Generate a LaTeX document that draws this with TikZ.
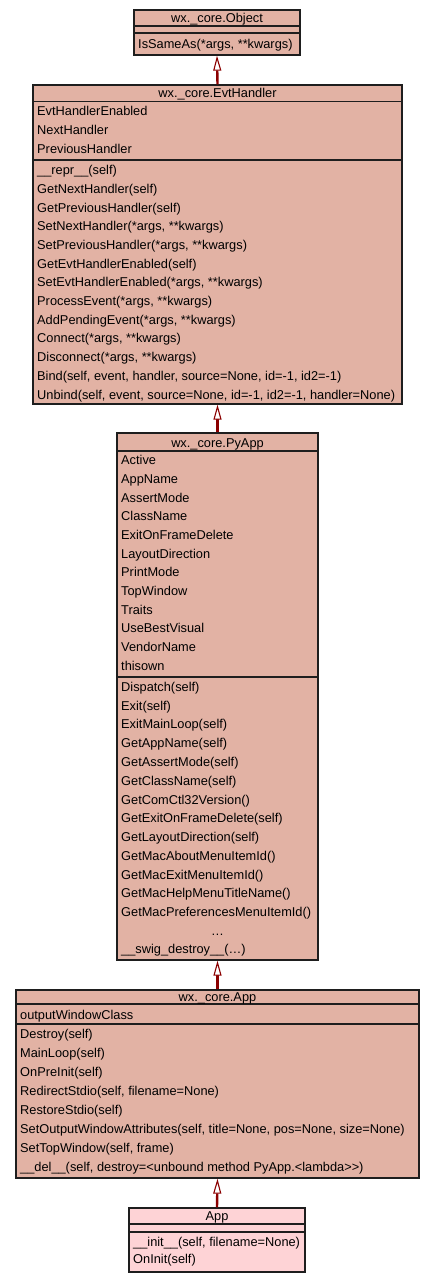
\documentclass[tikz,border=0pt]{standalone}
\usepackage{fontspec}
\setmainfont{Liberation Sans}
\usetikzlibrary{arrows.meta}
\definecolor{cBase}{HTML}{E2B2A4}
\definecolor{cLeaf}{HTML}{FED3D6}
\definecolor{cEdge}{HTML}{8B0000}
\definecolor{cLine}{HTML}{1E1E1E}

\begin{document}
\begin{tikzpicture}[
    x=1pt, y=-1pt, font=\fontsize{12.8}{15}\selectfont,
    cls/.style={draw=cLine, line width=1.3pt, fill=cBase, inner sep=0pt},
    leaf/.style={cls, fill=cLeaf},
    sepline/.style={draw=cLine, line width=1.3pt},
    inherit/.style={-{Triangle[length=15pt, width=8pt, fill=white, line width=1.1pt]},
                    line width=2.4pt, cEdge},
    title/.style={anchor=center, inner sep=0pt, text height=9.2pt, text depth=0pt},
    mem/.style={anchor=west, inner sep=0pt, text height=9.2pt, text depth=0pt},
]
\useasboundingbox (0,0) rectangle (435,1283);

% ===================== wx._core.Object =====================
\node[cls, minimum width=166pt, minimum height=45pt] (object) at (217,32.5) {};
\draw[sepline] (134,26) -- (300,26);
\draw[sepline] (134,33) -- (300,33);
\node[title] (objT) at (217,18) {wx.\_core.Object};
\node[mem] (objM1) at (138,44) {IsSameAs(*args, **kwargs)};

% ===================== wx._core.EvtHandler =====================
\node[cls, minimum width=369pt, minimum height=319pt] (evt) at (217.5,244.5) {};
\draw[sepline] (33,101.5) -- (402,101.5);
\draw[sepline] (33,160) -- (402,160);
\node[title] (evtT) at (217.5,93) {wx.\_core.EvtHandler};
\node[mem] (evtA1) at (37,111) {EvtHandlerEnabled};
\node[mem] (evtA2) at (37,129.7) {NextHandler};
\node[mem] (evtA3) at (37,148.4) {PreviousHandler};
\node[mem] (evtM1) at (37,170) {\_\_repr\_\_(self)};
\node[mem] (evtM2) at (37,188.7) {GetNextHandler(self)};
\node[mem] (evtM3) at (37,207.4) {GetPreviousHandler(self)};
\node[mem] (evtM4) at (37,226.1) {SetNextHandler(*args, **kwargs)};
\node[mem] (evtM5) at (37,244.8) {SetPreviousHandler(*args, **kwargs)};
\node[mem] (evtM6) at (37,263.5) {GetEvtHandlerEnabled(self)};
\node[mem] (evtM7) at (37,282.2) {SetEvtHandlerEnabled(*args, **kwargs)};
\node[mem] (evtM8) at (37,300.9) {ProcessEvent(*args, **kwargs)};
\node[mem] (evtM9) at (37,319.6) {AddPendingEvent(*args, **kwargs)};
\node[mem] (evtM10) at (37,338.3) {Connect(*args, **kwargs)};
\node[mem] (evtM11) at (37,357) {Disconnect(*args, **kwargs)};
\node[mem] (evtM12) at (37,375.7) {Bind(self, event, handler, source=None, id=-1, id2=-1)};
\node[mem] (evtM13) at (37,394.4) {Unbind(self, event, source=None, id=-1, id2=-1, handler=None)};

% ===================== wx._core.PyApp =====================
\node[cls, minimum width=201pt, minimum height=527pt] (pyapp) at (217.5,696.5) {};
\draw[sepline] (117,451) -- (318,451);
\draw[sepline] (117,677) -- (318,677);
\node[title] (pyT) at (217.5,442.5) {wx.\_core.PyApp};
\node[mem] (pyA1) at (121,460) {Active};
\node[mem] (pyA2) at (121,478.7) {AppName};
\node[mem] (pyA3) at (121,497.4) {AssertMode};
\node[mem] (pyA4) at (121,516.1) {ClassName};
\node[mem] (pyA5) at (121,534.8) {ExitOnFrameDelete};
\node[mem] (pyA6) at (121,553.5) {LayoutDirection};
\node[mem] (pyA7) at (121,572.2) {PrintMode};
\node[mem] (pyA8) at (121,590.9) {TopWindow};
\node[mem] (pyA9) at (121,609.6) {Traits};
\node[mem] (pyA10) at (121,628.3) {UseBestVisual};
\node[mem] (pyA11) at (121,647) {VendorName};
\node[mem] (pyA12) at (121,665.7) {thisown};
\node[mem] (pyM1) at (121,686.7) {Dispatch(self)};
\node[mem] (pyM2) at (121,705.5) {Exit(self)};
\node[mem] (pyM3) at (121,724.3) {ExitMainLoop(self)};
\node[mem] (pyM4) at (121,743) {GetAppName(self)};
\node[mem] (pyM5) at (121,761.8) {GetAssertMode(self)};
\node[mem] (pyM6) at (121,780.6) {GetClassName(self)};
\node[mem] (pyM7) at (121,799.4) {GetComCtl32Version()};
\node[mem] (pyM8) at (121,818.1) {GetExitOnFrameDelete(self)};
\node[mem] (pyM9) at (121,836.9) {GetLayoutDirection(self)};
\node[mem] (pyM10) at (121,855.7) {GetMacAboutMenuItemId()};
\node[mem] (pyM11) at (121,874.5) {GetMacExitMenuItemId()};
\node[mem] (pyM12) at (121,893.2) {GetMacHelpMenuTitleName()};
\node[mem] (pyM13) at (121,912) {GetMacPreferencesMenuItemId()};
\node[title] (pyDots) at (217.5,930.5) {\ldots};
\node[mem] (pyM14) at (121,949) {\_\_swig\_destroy\_\_(\ldots)};

% ===================== wx._core.App =====================
\node[cls, minimum width=403pt, minimum height=188pt] (wxapp) at (217.5,1084) {};
\draw[sepline] (16,1004) -- (419,1004);
\draw[sepline] (16,1024) -- (419,1024);
\node[title] (wxT) at (217.5,997) {wx.\_core.App};
\node[mem] (wxA1) at (20,1014.5) {outputWindowClass};
\node[mem] (wxM1) at (20,1034) {Destroy(self)};
\node[mem] (wxM2) at (20,1053) {MainLoop(self)};
\node[mem] (wxM3) at (20,1072) {OnPreInit(self)};
\node[mem] (wxM4) at (20,1091) {RedirectStdio(self, filename=None)};
\node[mem] (wxM5) at (20,1110) {RestoreStdio(self)};
\node[mem] (wxM6) at (20,1128.7) {SetOutputWindowAttributes(self, title=None, pos=None, size=None)};
\node[mem] (wxM7) at (20,1147.7) {SetTopWindow(self, frame)};
\node[mem] (wxM8) at (20,1166.7) {\_\_del\_\_(self, destroy=<\kern0pt unbound method PyApp.<\kern0pt lambda>\kern0pt>)};

% ===================== App =====================
\node[leaf, minimum width=176pt, minimum height=64pt] (app) at (217,1240) {};
\draw[sepline] (129,1224) -- (305,1224);
\draw[sepline] (129,1232) -- (305,1232);
\node[title] (appT) at (217,1216) {App};
\node[mem] (appM1) at (133,1242) {\_\_init\_\_(self, filename=None)};
\node[mem] (appM2) at (133,1259) {OnInit(self)};

% ===================== Herencia =====================
\draw[inherit] (evt.north) -- (object.south);
\draw[inherit] (pyapp.north) -- (evt.south);
\draw[inherit] (wxapp.north) -- (pyapp.south);
\draw[inherit] (app.north) -- (wxapp.south);

\end{tikzpicture}
\end{document}
